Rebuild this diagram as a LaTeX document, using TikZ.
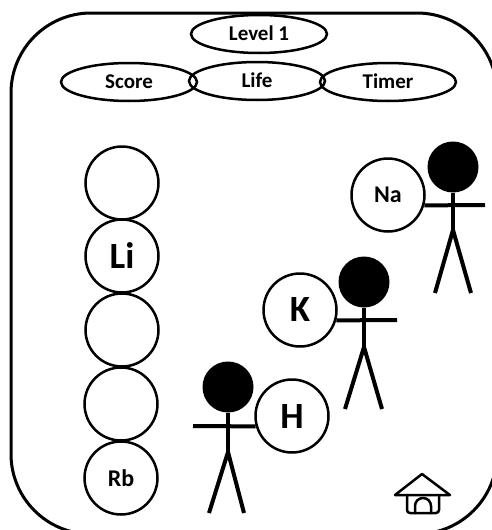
\documentclass[tikz,border=0pt]{standalone}
\usepackage{fontspec}
\setmainfont{Carlito}
\usetikzlibrary{shapes,shapes.geometric,calc}
\tikzset{
  hud/.style = {ellipse, draw=black, line width=2.5pt, inner sep=0pt,
    minimum width=136pt, minimum height=38pt, text height=13.5pt, text depth=0pt,
    font=\fontsize{21}{23}\selectfont\bfseries},
  atom/.style = {circle, draw=black, line width=2.5pt, inner sep=0pt, minimum size=73pt},
  atom_big/.style = {atom, font=\fontsize{37}{40}\selectfont\bfseries},
  atom_sm/.style = {atom, font=\fontsize{24}{26}\selectfont\bfseries},
  head/.style = {circle, fill=black, inner sep=0pt, minimum size=51pt},
  limb/.style = {line width=4pt},
  icon/.style = {line width=2.5pt, line join=round, line cap=round}
}

\begin{document}
\begin{tikzpicture}[x=1pt,y=-1pt]
	\useasboundingbox (0,0) rectangle (491,530);
	% screen frame
	\draw[line width=3pt, rounded corners=80pt] (11,13) rectangle (497,534);

	% top bar
	\node [hud] (level) at (259,34) {Level 1};
	\node [hud] (score) at (129,82) {Score};
	\node [hud] (timer) at (388,82) {Timer};
	\node [hud] (life)  at (257,81) {Life};

	% element column
	\node [atom] (slot1) at (122,183) {};
	\node [atom_big] (li) at (122,256) {Li};
	\node [atom] (slot3) at (122,330) {};
	\node [atom] (slot4) at (121,404) {};
	\node [atom_sm] (rb) at (121,478) {Rb};

	% player holding Na
	\node [atom_sm] (na) at (388,195) {Na};
	\node [head] (na_head) at (453,167) {};
	\coordinate (na_hip) at (453,230);
	\coordinate (na_hand) at (485,205);
	\draw [limb] (na_head) -- (na_hip);
	\draw [limb] (na.-16) -- (na_hand);
	\draw [limb] (435,293) -- (na_hip) -- (471,293);

	% player holding K
	\node [atom_big] (k) at (300,310) {K};
	\node [head] (k_head) at (364,282) {};
	\coordinate (k_hip) at (364,347);
	\coordinate (k_hand) at (397,320);
	\draw [limb] (k_head) -- (k_hip);
	\draw [limb] (k.-16) -- (k_hand);
	\draw [limb] (345,409) -- (k_hip) -- (382,409);

	% player holding H
	\node [atom_big] (h) at (292,416) {H};
	\node [head] (h_head) at (228,387) {};
	\coordinate (h_hip) at (228,452);
	\coordinate (h_hand) at (193,426);
	\draw [limb] (h_head) -- (h_hip);
	\draw [limb] (h.196) -- (h_hand);
	\draw [limb] (209,513) -- (h_hip) -- (244,513);

	% home button
	\draw [icon] (395,495) -- (422,474) -- (450,495) -- cycle;
	\draw [icon, rounded corners=3pt] (407,495) -- (407,513) -- (439,513) -- (439,495);
	\draw [icon] (415,513) -- (415,506) arc (180:360:8) -- (431,513);
\end{tikzpicture}
\end{document}
